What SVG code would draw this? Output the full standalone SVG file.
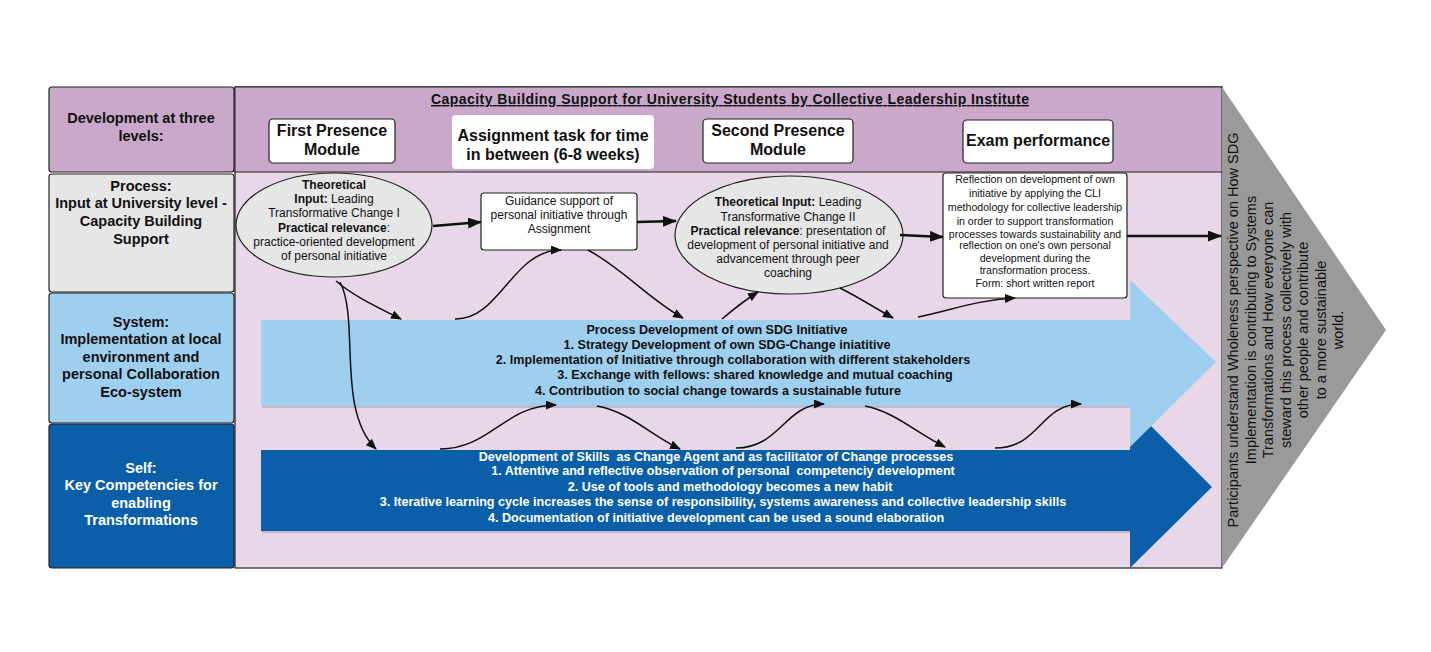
<svg xmlns="http://www.w3.org/2000/svg" width="1431" height="652" viewBox="0 0 1431 652">
<style>
text{font-family:"Liberation Sans",Arial,sans-serif;text-anchor:middle}
.lbl{font-weight:bold;font-size:14.5px;fill:#111}
.lblw{font-weight:bold;font-size:14.5px;fill:#fff}
.hd{font-weight:bold;font-size:16px;fill:#111}
.t12{font-size:12px;fill:#111}
.t11{font-size:10.6px;fill:#111}
.b{font-weight:bold}
.bl{font-weight:bold;font-size:12.6px;fill:#111}
.dk{font-weight:bold;font-size:12.6px;fill:#fff;white-space:pre}
.gr{font-size:14.5px;fill:#111}
.box{fill:#fff;stroke:#222;stroke-width:1.2}
.cell{stroke:#222;stroke-width:1.2}
.con{fill:none;stroke:#111;stroke-width:1.5}
.thk{fill:none;stroke:#111;stroke-width:2.6}
</style>
<defs>
<marker id="ah" markerUnits="userSpaceOnUse" markerWidth="11" markerHeight="9" refX="10" refY="4.5" orient="auto"><path d="M0,0 L11,4.5 L0,9 Z" fill="#111"/></marker>
<marker id="ahb" markerUnits="userSpaceOnUse" markerWidth="14" markerHeight="11" refX="13" refY="5.5" orient="auto"><path d="M0,0 L14,5.5 L0,11 Z" fill="#111"/></marker>
</defs>
<rect width="1431" height="652" fill="#fff"/>

<g id="main-area">
<rect x="235" y="87" width="987" height="481" fill="#e8d7e8" stroke="#222" stroke-width="1.2"/>
<rect x="235" y="87" width="987" height="85" fill="#c9a8c9" stroke="#222" stroke-width="1"/>
</g>

<g id="outcome-chevron">
<polygon points="1222,87 1386,330 1222,568" fill="#9a9a9a"/>
<g transform="translate(1290,330) rotate(-90)">
<text class="gr" x="0" y="-52">Participants understand Wholeness perspective on How SDG</text>
<text class="gr" x="0" y="-34.5">Implementation is contributing to Systems</text>
<text class="gr" x="0" y="-17">Transformations and How everyone can</text>
<text class="gr" x="0" y="0.5">steward this process collectively with</text>
<text class="gr" x="0" y="18">other people and contribute</text>
<text class="gr" x="0" y="35.5">to a more sustainable</text>
<text class="gr" x="0" y="53">world.</text>
</g>
</g>

<g id="row-levels">
<rect class="cell" x="49" y="87" width="185" height="85" rx="3" fill="#c9a8c9"/>
<text class="lbl" x="141" y="123">Development at three</text>
<text class="lbl" x="141" y="141">levels:</text>
</g>
<g id="row-process">
<rect class="cell" x="49" y="174" width="185" height="118" rx="3" fill="#e6e6e6"/>
<text class="lbl" x="141" y="191">Process:</text>
<text class="lbl" x="141" y="208">Input at University level -</text>
<text class="lbl" x="141" y="226">Capacity Building</text>
<text class="lbl" x="141" y="244">Support</text>
</g>
<g id="row-system">
<rect class="cell" x="49" y="293" width="185" height="130" rx="3" fill="#9fcfee"/>
<text class="lbl" x="141" y="327">System:</text>
<text class="lbl" x="141" y="344">Implementation at local</text>
<text class="lbl" x="141" y="362">environment and</text>
<text class="lbl" x="141" y="379">personal Collaboration</text>
<text class="lbl" x="141" y="397">Eco-system</text>
</g>
<g id="row-self">
<rect class="cell" x="49" y="424" width="185" height="144" rx="3" fill="#0b5fa8"/>
<text class="lblw" x="141" y="473">Self:</text>
<text class="lblw" x="141" y="490">Key Competencies for</text>
<text class="lblw" x="141" y="508">enabling</text>
<text class="lblw" x="141" y="525">Transformations</text>
</g>

<g id="title">
<text class="b" x="730" y="104" font-size="14" fill="#111" text-decoration="underline" textLength="598">Capacity Building Support for University Students by Collective Leadership Institute</text>
</g>
<g id="first-presence">
<rect class="box" x="269" y="119" width="126" height="44" rx="4"/>
<text class="hd" x="332" y="136">First Presence</text>
<text class="hd" x="332" y="155">Module</text>
</g>
<g id="assignment-task">
<rect x="452" y="115" width="202" height="54" rx="4" fill="#fff"/>
<text class="hd" x="553" y="141" font-size="16.5">Assignment task for time</text>
<text class="hd" x="553" y="160" font-size="16.5">in between (6-8 weeks)</text>
</g>
<g id="second-presence">
<rect class="box" x="703" y="119" width="150" height="44" rx="4"/>
<text class="hd" x="778" y="136">Second Presence</text>
<text class="hd" x="778" y="155">Module</text>
</g>
<g id="exam-performance">
<rect class="box" x="963" y="120" width="150" height="43" rx="4"/>
<text class="hd" x="1038" y="146">Exam performance</text>
</g>

<g id="system-arrow">
<path d="M261,450 L1130,450 L1130,405 L1212,487 L1130,568 L1130,531 L261,531 Z" fill="#0b5fa8"/>
<path d="M261,320 L1130,320 L1130,280 L1216,362 L1130,447 L1130,406 L261,406 Z" fill="#9fcfee"/>
<line x1="262" y1="407" x2="1130" y2="407" stroke="#9a9aa8" stroke-width="1"/>
<line x1="262" y1="532" x2="1130" y2="532" stroke="#9a9aa8" stroke-width="1"/>
</g>
<g id="system-text">
<text class="bl" x="717" y="334">Process Development of own SDG Initiative</text>
<text class="bl" x="727" y="349">1. Strategy Development of own SDG-Change iniatitive</text>
<text class="bl" x="733" y="364">2. Implementation of Initiative through collaboration with different stakeholders</text>
<text class="bl" x="755" y="379">3. Exchange with fellows: shared knowledge and mutual coaching</text>
<text class="bl" x="718" y="395">4. Contribution to social change towards a sustainable future</text>
</g>
<g id="self-text">
<text class="dk" x="716" y="461" xml:space="preserve">Development of Skills  as Change Agent and as facilitator of Change processes</text>
<text class="dk" x="723" y="475" xml:space="preserve">1. Attentive and reflective observation of personal  competenciy development</text>
<text class="dk" x="730" y="491">2. Use of tools and methodology becomes a new habit</text>
<text class="dk" x="723" y="506">3. Iterative learning cycle increases the sense of responsibility, systems awareness and collective leadership skills</text>
<text class="dk" x="716" y="522">4. Documentation of initiative development can be used a sound elaboration</text>
</g>

<g id="theory-1">
<ellipse cx="334" cy="225" rx="98" ry="52" fill="#e6e6e6" stroke="#222" stroke-width="1.2"/>
<text class="t12 b" x="334" y="189">Theoretical</text>
<text class="t12" x="334" y="203"><tspan class="b">Input:</tspan> Leading</text>
<text class="t12" x="334" y="217">Transformative Change I</text>
<text class="t12" x="334" y="232"><tspan class="b">Practical relevance</tspan>:</text>
<text class="t12" x="334" y="246">practice-oriented development</text>
<text class="t12" x="334" y="260">of personal initiative</text>
</g>
<g id="guidance">
<rect class="box" x="481" y="193" width="156" height="57" rx="3"/>
<text class="t12" x="559" y="205">Guidance support of</text>
<text class="t12" x="559" y="219">personal initiative through</text>
<text class="t12" x="559" y="233">Assignment</text>
</g>
<g id="theory-2">
<ellipse cx="789" cy="235" rx="114" ry="59" fill="#e6e6e6" stroke="#222" stroke-width="1.2"/>
<text class="t12" x="788" y="206"><tspan class="b">Theoretical Input:</tspan> Leading</text>
<text class="t12" x="788" y="221">Transformative Change II</text>
<text class="t12" x="788" y="235"><tspan class="b">Practical relevance</tspan>: presentation of</text>
<text class="t12" x="788" y="249">development of personal initiative and</text>
<text class="t12" x="788" y="263">advancement through peer</text>
<text class="t12" x="788" y="277">coaching</text>
</g>
<g id="reflection">
<rect class="box" x="943" y="173" width="184" height="125" rx="3"/>
<text class="t11" x="1035" y="183">Reflection on development of own</text>
<text class="t11" x="1035" y="197">initiative by applying the CLI</text>
<text class="t11" x="1035" y="211">methodology for collective leadership</text>
<text class="t11" x="1035" y="225">in order to support transformation</text>
<text class="t11" x="1035" y="238">processes towards sustainability and</text>
<text class="t11" x="1035" y="249">reflection on one's own personal</text>
<text class="t11" x="1035" y="262">development during the</text>
<text class="t11" x="1035" y="274">transformation process.</text>
<text class="t11" x="1035" y="287">Form: short written report</text>
</g>

<g id="connectors">
<path class="thk" d="M433,226 L481,222" marker-end="url(#ahb)"/>
<path class="thk" d="M637,222 L676,221" marker-end="url(#ahb)"/>
<path class="thk" d="M900,235 L943,237" marker-end="url(#ahb)"/>
<path class="thk" d="M1127,236 L1221,236" marker-end="url(#ahb)"/>
<path class="con" d="M336,281 C352,295 375,306 401,319" marker-end="url(#ah)"/>
<path class="con" d="M340,282 C360,320 336,410 376,449" marker-end="url(#ah)"/>
<path class="con" d="M455,319 C500,320 512,250 561,250" marker-end="url(#ah)"/>
<path class="con" d="M588,250 C622,268 650,300 683,318" marker-end="url(#ah)"/>
<path class="con" d="M722,319 C735,308 745,300 758,292" marker-end="url(#ah)"/>
<path class="con" d="M840,288 C860,298 875,308 893,318" marker-end="url(#ah)"/>
<path class="con" d="M918,317 C950,311 975,300 1015,298" marker-end="url(#ah)"/>
<path class="con" d="M440,449 C490,449 505,405 556,405" marker-end="url(#ah)"/>
<path class="con" d="M597,406 C630,412 650,435 680,449" marker-end="url(#ah)"/>
<path class="con" d="M736,448 C780,448 785,404 824,404" marker-end="url(#ah)"/>
<path class="con" d="M865,406 C895,412 915,432 945,447" marker-end="url(#ah)"/>
<path class="con" d="M995,448 C1040,448 1040,404 1081,404" marker-end="url(#ah)"/>
</g>
</svg>
